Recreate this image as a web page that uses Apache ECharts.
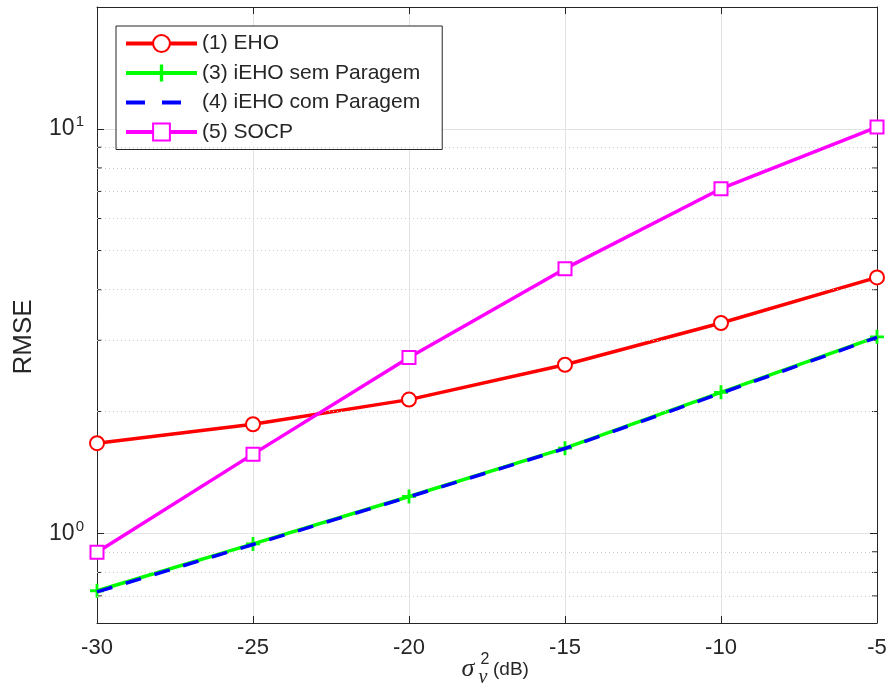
<!DOCTYPE html>
<html>
<head>
<meta charset="utf-8">
<script src="https://cdn.jsdelivr.net/npm/echarts@6/dist/echarts.min.js"></script>
<style>html,body{margin:0;padding:0;background:#fff}#c{width:890px;height:688px}</style>
</head>
<body>
<div id="c"></div>
<script>
// ---- data ----
const xValues = [-30, -25, -20, -15, -10, -5];
const ehoValues = [1.67, 1.86, 2.14, 2.61, 3.31, 4.29];
const iehoSemValues = [0.721, 0.941, 1.233, 1.623, 2.23, 3.06];
const iehoComValues = [0.716, 0.938, 1.230, 1.620, 2.22, 3.05];
const socpValues = [0.898, 1.569, 2.72, 4.51, 7.11, 10.1];
const seriesNames = ['(1) EHO', '(3) iEHO sem Paragem', '(4) iEHO com Paragem', '(5) SOCP'];
const xTicks = [-30, -25, -20, -15, -10, -5];
const yMajorTicks = [1, 10];
const yMinorTicks = [0.7, 0.8, 0.9, 2, 3, 4, 5, 6, 7, 8, 9];

const pair = (vals) => xValues.map((x, i) => [x, vals[i]]);
const textColor = '#262626';
const fontFam = 'Liberation Sans, Arial, Helvetica, sans-serif';
const serifFam = 'Liberation Serif, Times New Roman, serif';
const plusPath = 'path://M4.0,0 L6.0,0 L6.0,4.0 L10,4.0 L10,6.0 L6.0,6.0 L6.0,10 L4.0,10 L4.0,6.0 L0,6.0 L0,4.0 L4.0,4.0 Z';

const chart = echarts.init(document.getElementById('c'), null, {renderer: 'canvas'});
const supFmt = (v) => {
  for (const t of yMajorTicks) {
    if (Math.abs(t - v) < 1e-9) return '{b|10}{s|' + Math.round(Math.log10(t)) + '}';
  }
  return '';
};

const option = {
  backgroundColor: '#fff',
  animation: false,
  textStyle: {fontFamily: fontFam},
  grid: {left: 97, right: 13, top: 7, bottom: 65, containLabel: false},
  legend: {
    data: [
      {name: seriesNames[0]},
      {name: seriesNames[1]},
      {name: seriesNames[2], itemStyle: {opacity: 0}, lineStyle: {type: [19, 17]}},
      {name: seriesNames[3]}
    ],
    orient: 'vertical',
    left: 116, top: 26,
    backgroundColor: '#fff',
    borderColor: textColor, borderWidth: 1, borderRadius: 0,
    padding: [7, 22, 7, 8],
    itemWidth: 71, itemHeight: 21, itemGap: 8.5,
    lineStyle: {width: 4},
    textStyle: {fontSize: 21, lineHeight: 21, color: textColor, fontFamily: fontFam},
    selectedMode: false
  },
  xAxis: [{
    type: 'value', min: -30, max: -5, interval: 5,
    axisLine: {show: true, onZero: false, lineStyle: {color: textColor, width: 1}},
    axisTick: {show: true, inside: true, length: 7, lineStyle: {color: textColor}},
    axisLabel: {fontSize: 22, color: textColor, margin: 14, fontFamily: fontFam,
      formatter: (v) => xTicks.indexOf(v) >= 0 ? String(v) : ''},
    splitLine: {show: true, lineStyle: {color: '#e3e3e3', width: 1}}
  }, {
    type: 'value', min: -30, max: -5, interval: 5, position: 'top',
    axisLine: {show: true, onZero: false, lineStyle: {color: textColor, width: 1}},
    axisTick: {show: true, inside: true, length: 7, lineStyle: {color: textColor}},
    axisLabel: {show: false}, splitLine: {show: false}
  }],
  yAxis: [{
    type: 'log', logBase: 10, min: 0.6, max: 20,
    axisLine: {show: true, lineStyle: {color: textColor, width: 1}},
    axisTick: {show: true, inside: true, length: 7, lineStyle: {color: textColor}},
    axisLabel: {color: textColor, margin: 13, fontFamily: fontFam,
      showMinLabel: false, showMaxLabel: false,
      formatter: supFmt,
      rich: {
        b: {fontSize: 23, color: textColor, fontFamily: fontFam},
        s: {fontSize: 15, color: textColor, padding: [0, 0, 13, 1], fontFamily: fontFam}
      }},
    splitLine: {show: true, lineStyle: {color: '#e3e3e3', width: 1}}
  }, {
    type: 'log', logBase: 10, min: 0.6, max: 20, position: 'right',
    axisLine: {show: true, lineStyle: {color: textColor, width: 1}},
    axisTick: {show: true, inside: true, length: 7, lineStyle: {color: textColor}},
    axisLabel: {show: false}, splitLine: {show: false}
  }],
  series: [
    {
      name: 'minorTicks', type: 'custom', silent: true, z: 1, clip: false,
      data: yMinorTicks.map(v => [-30, v]),
      renderItem: (params, api) => {
        const v = api.value(1);
        const p1 = api.coord([-30, v]);
        const p2 = api.coord([-5, v]);
        return {type: 'group', children: [
          {type: 'line', shape: {x1: p1[0], y1: p1[1], x2: p1[0] + 5, y2: p1[1]}, style: {stroke: textColor, lineWidth: 1}},
          {type: 'line', shape: {x1: p2[0] - 5, y1: p2[1], x2: p2[0], y2: p2[1]}, style: {stroke: textColor, lineWidth: 1}}
        ]};
      }
    },
    {
      name: seriesNames[0], type: 'line', data: pair(ehoValues),
      symbol: 'emptyCircle', symbolSize: 14, z: 3,
      lineStyle: {color: '#ff0000', width: 3.5},
      itemStyle: {color: '#ff0000', borderColor: '#ff0000', borderWidth: 2.5},
      markLine: {
        silent: true, symbol: 'none', label: {show: false}, animation: false,
        lineStyle: {color: '#c9c9c9', type: [1, 3], width: 1},
        data: yMinorTicks.map(v => ({yAxis: v}))
      }
    },
    {
      name: seriesNames[1], type: 'line', data: pair(iehoSemValues),
      symbol: plusPath, symbolSize: 14, z: 4,
      lineStyle: {color: '#00ff00', width: 3.5},
      itemStyle: {color: '#00ff00'}
    },
    {
      name: seriesNames[2], type: 'line', data: pair(iehoComValues),
      symbol: 'circle', showSymbol: false, z: 5,
      lineStyle: {color: '#0000ff', width: 3.5, type: [16, 14]},
      itemStyle: {color: '#0000ff'}
    },
    {
      name: seriesNames[3], type: 'line', data: pair(socpValues),
      symbol: 'emptyRect', symbolSize: 13, z: 6,
      lineStyle: {color: '#ff00ff', width: 3.5},
      itemStyle: {color: '#ff00ff', borderColor: '#ff00ff', borderWidth: 2.5}
    }
  ],
  graphic: [
    {type: 'text', x: 24, y: 337, rotation: Math.PI / 2,
      style: {text: 'RMSE', fontSize: 26, fill: textColor, fontFamily: fontFam, align: 'center', verticalAlign: 'middle'}},
    {type: 'text', x: 468, y: 669,
      style: {text: 'σ', fontSize: 26, fontStyle: 'italic', fill: textColor, fontFamily: serifFam, align: 'center', verticalAlign: 'middle'}},
    {type: 'text', x: 485, y: 660,
      style: {text: '2', fontSize: 16, fill: textColor, fontFamily: fontFam, align: 'center', verticalAlign: 'middle'}},
    {type: 'text', x: 483, y: 678,
      style: {text: 'ν', fontSize: 20, fontStyle: 'italic', fill: textColor, fontFamily: serifFam, align: 'center', verticalAlign: 'middle'}},
    {type: 'text', x: 493, y: 670,
      style: {text: '(dB)', fontSize: 19, fill: textColor, fontFamily: fontFam, align: 'left', verticalAlign: 'middle'}}
  ]
};
chart.setOption(option);
</script>
</body>
</html>
